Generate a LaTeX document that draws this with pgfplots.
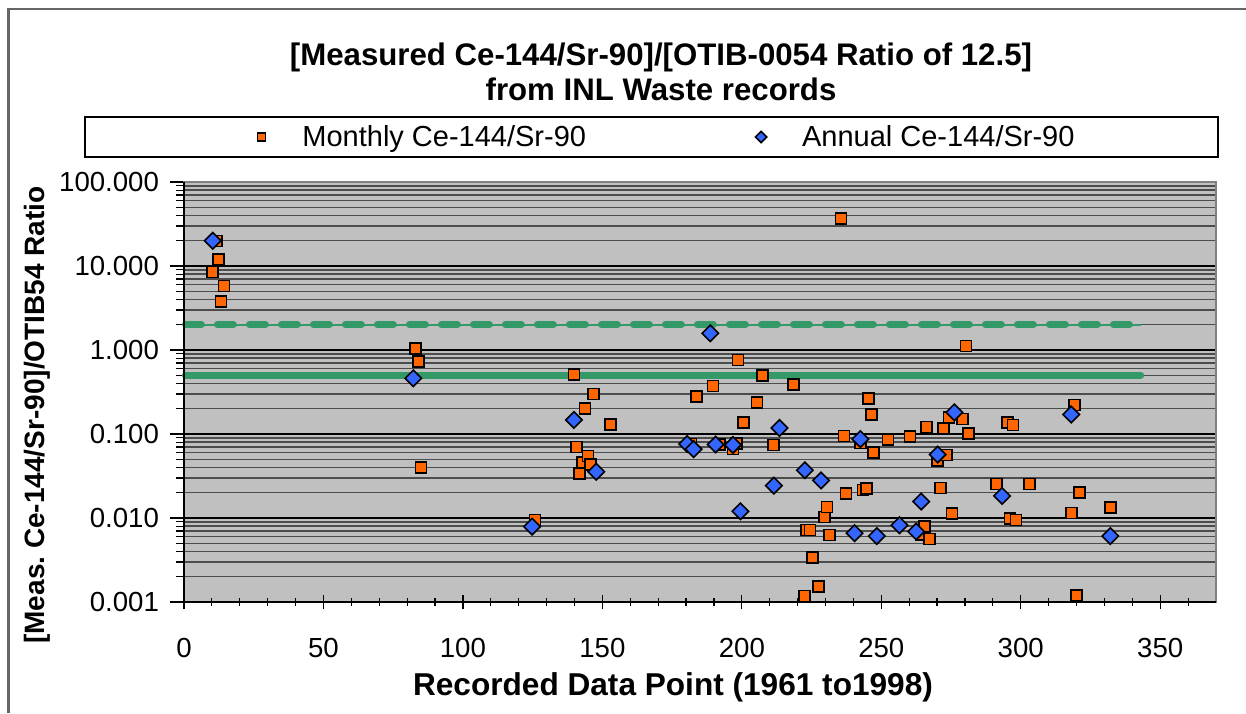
\documentclass[border=0pt]{standalone}
\usepackage{pgfplots}
\pgfplotsset{compat=1.18}
\usepackage{fontspec}
\setmainfont{Liberation Sans}
\frenchspacing
\definecolor{mor}{HTML}{FF6600}
\definecolor{abl}{HTML}{3366FF}
\definecolor{lgr}{HTML}{339966}
\definecolor{pbg}{HTML}{C0C0C0}

\pgfplotstableread{
x y
11.7 19.9
12.3 12.0
10.3 8.5
14.3 5.8
13.3 3.76
83.0 1.05
84.1 0.726
85.0 0.040
125.9 0.0095
139.8 0.51
140.7 0.070
141.9 0.034
142.8 0.046
143.7 0.20
144.9 0.055
145.7 0.043
146.9 0.30
152.9 0.130
181.8 0.076
183.7 0.278
189.6 0.373
192.0 0.075
196.8 0.066
198.0 0.077
198.6 0.76
200.5 0.136
205.5 0.236
207.5 0.50
211.4 0.074
218.5 0.386
222.5 0.00118
223.1 0.0072
224.5 0.0072
225.4 0.0034
227.4 0.00154
229.6 0.0103
230.6 0.0135
231.4 0.0063
235.5 37
236.6 0.095
237.4 0.0195
242.5 0.078
243.4 0.0215
244.6 0.0225
245.5 0.263
246.5 0.170
247.3 0.060
252.4 0.086
260.3 0.093
264.3 0.0064
265.5 0.0079
266.3 0.121
267.3 0.0056
270.2 0.048
271.3 0.0228
272.4 0.116
273.4 0.056
274.2 0.157
275.4 0.0113
279.2 0.151
280.4 1.12
281.3 0.101
291.2 0.0254
295.3 0.136
296.2 0.0099
297.2 0.128
298.3 0.0095
303.2 0.0254
318.1 0.0115
319.2 0.221
320.0 0.0012
321.1 0.020
332.1 0.0134
}\monthly

\pgfplotstableread{
x y
10.3 20
82.2 0.46
124.8 0.0079
139.8 0.147
147.8 0.0356
180.4 0.076
182.7 0.066
188.7 1.58
190.6 0.075
196.8 0.074
199.5 0.012
211.5 0.0243
213.5 0.118
222.6 0.037
228.4 0.028
240.4 0.0066
242.5 0.087
248.4 0.0061
256.5 0.0082
262.5 0.0069
264.3 0.0157
270.2 0.057
276.2 0.181
293.3 0.0183
318.1 0.171
332.1 0.0061
}\annual

\begin{document}
\begin{tikzpicture}
\path[use as bounding box] (0pt,0pt) rectangle (623pt,356.5pt);
\draw[black!60, line width=1.2pt] (4.3pt,0pt) -- (4.3pt,352pt) -- (623pt,352pt);
\node[anchor=base, font=\fontsize{15.6}{19}\selectfont\bfseries] at (330.5pt,323.5pt) {[Measured Ce-144/Sr-90]/[OTIB-0054 Ratio of 12.5]};
\node[anchor=base, font=\fontsize{15.6}{19}\selectfont\bfseries] at (330.5pt,306pt) {from INL Waste records};
\draw[black, line width=0.8pt] (42.5pt,278pt) rectangle (609pt,298pt);
\node[rotate=90, font=\fontsize{14}{17}\selectfont\bfseries] at (18.5pt,149pt) {[Meas. Ce-144/Sr-90]/OTIB54 Ratio};
\node[anchor=base, font=\fontsize{15.8}{19}\selectfont\bfseries] at (336.5pt,9pt) {Recorded Data Point (1961 to1998)};

\begin{axis}[
  at={(92pt,55.5pt)}, anchor=south west, scale only axis,
  width=516pt, height=210pt,
  xmin=0, xmax=370, ymode=log, ymin=0.001, ymax=100,
  axis background/.style={fill=pbg},
  axis line style={draw=black!50, line width=1pt},
  xtick={0,50,100,150,200,250,300,350},
  xticklabels={0,50,100,150,200,250,300,350},
  minor xtick={10,20,30,40,60,70,80,90,110,120,130,140,160,170,180,190,210,220,230,240,260,270,280,290,310,320,330,340,360},
  ytick={0.001,0.01,0.1,1,10,100},
  yticklabels={0.001,0.010,0.100,1.000,10.000,100.000},
  minor ytick={0.002,0.003,0.004,0.005,0.006,0.007,0.008,0.009,0.02,0.03,0.04,0.05,0.06,0.07,0.08,0.09,0.2,0.3,0.4,0.5,0.6,0.7,0.8,0.9,2,3,4,5,6,7,8,9,20,30,40,50,60,70,80,90},
  xtick pos=bottom, ytick pos=left,
  ymajorgrids, yminorgrids,
  major grid style={black, line width=0.7pt},
  minor grid style={black!70, line width=0.7pt},
  tick style={black, line width=0.6pt},
  xtick align=center, ytick align=outside,
  major tick length=7pt, minor tick length=4pt,
  ticklabel style={font=\fontsize{13.8}{16}\selectfont},
  xticklabel style={anchor=base, yshift=-24pt},
  yticklabel style={anchor=east, xshift=-2pt},
  legend style={draw=none, fill=none,
    font=\fontsize{14.5}{17}\selectfont, legend columns=2,
    /tikz/every even column/.append style={column sep=82.5pt}},
  legend style={at={(0.063,1.107)}, anchor=west},
  legend image code/.code={\path[draw=none, fill=none] (-3pt,0pt) -- (18.5pt,0pt); \path[#1, draw=none, mark size=2pt] plot coordinates {(0pt,0pt)};},
  clip=false,
]
\addplot[lgr, line width=1.2pt, forget plot] coordinates {(0,2) (343,2)};
\addplot[lgr, line width=3.5pt, line cap=round, dash pattern=on 8pt off 8pt, forget plot] coordinates {(0.5,2) (343,2)};
\addplot[lgr, line width=3.5pt, line cap=round, forget plot] coordinates {(0.5,0.5) (343,0.5)};
\addplot[only marks, mark=square*, mark size=2.75pt, mark options={fill=mor, draw=black, line width=0.8pt}] table[x=x,y=y] {\monthly};
\addlegendentry{Monthly Ce-144/Sr-90}
\addplot[only marks, mark=square*, mark size=2.9pt, mark options={rotate=45, fill=abl, draw=black, line width=0.8pt}] table[x=x,y=y] {\annual};
\addlegendentry{Annual Ce-144/Sr-90}
\draw[black, line width=1pt] (rel axis cs:0,1) -- (rel axis cs:0,0) -- (rel axis cs:1,0);
\end{axis}
\end{tikzpicture}
\end{document}
